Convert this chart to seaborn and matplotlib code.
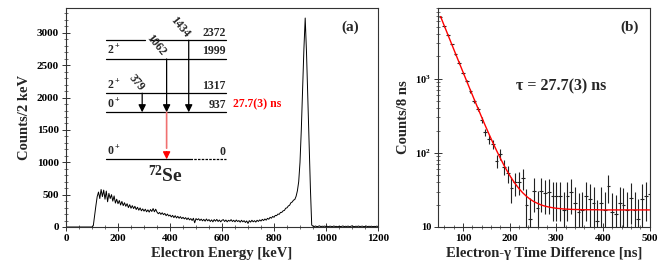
import numpy as np
import matplotlib
matplotlib.use("Agg")
import matplotlib.pyplot as plt
import seaborn as sns
from matplotlib.ticker import MultipleLocator, FixedLocator, FixedFormatter, LogLocator, NullFormatter

# ---------------- data: panel (a), electron energy spectrum (5 keV grid) ----------------
energy_kev = np.arange(0, 1205, 5)
energy_counts = [
    0, 0, 0, 0, 0, 0, 0, 0, 0, 0,
    0, 0, 0, 0, 0, 0, 0, 0, 0, 0,
    0, 20, 180, 330, 470, 540, 440, 580, 470, 570,
    430, 555, 390, 520, 440, 500, 400, 480, 370, 430,
    360, 410, 340, 395, 330, 375, 320, 360, 300, 345,
    290, 330, 285, 320, 270, 305, 260, 295, 250, 280,
    245, 275, 235, 265, 230, 270, 240, 285, 235, 275,
    230, 205, 225, 195, 220, 190, 210, 175, 200, 170,
    185, 155, 180, 145, 175, 140, 165, 135, 160, 130,
    150, 125, 145, 115, 140, 110, 130, 100, 135, 65,
    130, 110, 128, 100, 122, 95, 118, 90, 124, 95,
    115, 85, 110, 80, 115, 90, 118, 85, 108, 80,
    104, 114, 85, 108, 80, 104, 90, 114, 85, 104,
    80, 108, 85, 100, 75, 104, 80, 98, 70, 94,
    55, 98, 76, 104, 80, 98, 76, 104, 86, 110,
    92, 118, 100, 124, 106, 134, 120, 150, 136, 164,
    150, 180, 175, 200, 196, 225, 226, 250, 256, 290,
    296, 325, 336, 375, 386, 415, 425, 475, 560, 700,
    1000, 1500, 2100, 2750, 3230, 2700, 2000, 1300, 600, 30,
    12, 8, 15, 5, 10, 18, 6, 12, 9, 14,
    7, 11, 5, 13, 9, 6, 15, 8, 10, 4,
    12, 7, 9, 16, 6, 11, 8, 14, 5, 10,
    18, 9, 6, 12, 8, 15, 7, 10, 13, 6,
    9, 14, 6, 11, 8, 12, 5, 10, 7, 13,
    8,
]

# level scheme of 72Se
level_energies = [0, 937, 1317, 1999, 2372]
level_spins = ["0$^+$", "0$^+$", "2$^+$", "2$^+$", ""]
gamma_labels = ["379", "1062", "1434"]
lifetime_label = "27.7(3) ns"

# ---------------- data: panel (b), time difference ----------------
time_ns = np.arange(52, 501, 8)
time_counts = [
    6900, 5100, 3900, 2900, 2150, 1650, 1200, 920, 690, 500,
    390, 275, 190, 153, 132, 78, 96, 65, 53, 34,
    40, 41, 46, 20, 13, 31, 18, 31, 29, 30,
    26, 26, 26, 17, 26, 30, 21, 16, 17, 26,
    24, 21, 12, 21, 17, 36, 16, 15, 21, 20,
    17, 25, 17, 13, 24, 26, 28,
]
time_errors = [
    140, 120, 100, 85, 70, 60, 50, 45, 40, 33,
    28, 25, 22, 20, 19, 16, 17, 15, 14, 13,
    14, 14, 14, 13, 12, 15, 13, 15, 14, 15,
    14, 14, 14, 13, 14, 15, 14, 13, 13, 14,
    14, 14, 11, 14, 13, 15, 13, 12, 14, 14,
    13, 14, 13, 11, 14, 14, 15,
]
fit_counts = [
    6902, 5175, 3882, 2912, 2186, 1642, 1235, 929, 700, 529,
    401, 304, 232, 178, 138, 107.6, 84.9, 67.9, 55.1, 45.5,
    38.4, 33.0, 29.0, 26.0, 23.7, 22.0, 20.8, 19.8, 19.1, 18.6,
    18.2, 17.9, 17.7, 17.5, 17.4, 17.3, 17.2, 17.2, 17.1, 17.1,
    17.1, 17.1, 17.1, 17.0, 17.0, 17.0, 17.0, 17.0, 17.0, 17.0,
    17.0, 17.0, 17.0, 17.0, 17.0, 17.0, 17.0,
]

# ---------------- style ----------------
sns.set_theme(style="ticks")
plt.rcParams.update({
    "font.family": ["Liberation Serif", "DejaVu Serif"],
    "font.weight": "bold",
    "mathtext.fontset": "custom",
    "mathtext.rm": "Liberation Serif:bold",
    "mathtext.it": "Liberation Serif:italic:bold",
    "mathtext.bf": "Liberation Serif:bold",
    "axes.linewidth": 0.8,
    "axes.edgecolor": "#333333",
})

fig = plt.figure(figsize=(6.64, 2.67), dpi=100)
ax1 = fig.add_axes([66 / 664, 40 / 267, 312 / 664, 219 / 267])
ax2 = fig.add_axes([438 / 664, 40 / 267, 212 / 664, 219 / 267])

# ---------------- panel (a) ----------------
sns.lineplot(x=energy_kev, y=energy_counts, ax=ax1, color="black", lw=0.7)
ax1.set_xlim(0, 1200)
ax1.set_ylim(0, 3385)
ax1.xaxis.set_major_locator(MultipleLocator(200))
ax1.xaxis.set_minor_locator(MultipleLocator(50))
ax1.yaxis.set_major_locator(MultipleLocator(500))
ax1.yaxis.set_minor_locator(MultipleLocator(100))
ax1.set_xlabel("Electron Energy [keV]", fontsize=10.5, fontweight="bold", labelpad=3)
ax1.set_ylabel("Counts/2 keV", fontsize=10.5, fontweight="bold", labelpad=4)
ax1.text(1092, 3090, "(a)", fontsize=11, fontweight="bold", ha="center", va="center")


def level_y(e):
    # vertical placement of a level inside the spectrum frame
    return 1046 + 0.776 * e


x_lo, x_hi = 154, 615
for e, spin in zip(level_energies, level_spins):
    y = level_y(e)
    if e == 2372:
        ax1.plot([x_lo, 305], [y, y], color="black", lw=0.9)
        ax1.plot([325, x_hi], [y, y], color="black", lw=0.9)
    elif e == 0:
        ax1.plot([x_lo, 477], [y, y], color="black", lw=0.9)
        ax1.plot([477, x_hi], [y, y], color="black", lw=0.9, ls=(0, (2, 1)))
    else:
        ax1.plot([x_lo, x_hi], [y, y], color="black", lw=0.9)
    ax1.text(x_hi, y + 25, str(e), fontsize=8.5, fontweight="bold", ha="right", va="bottom")
    if spin:
        ax1.text(x_lo + 2, y + 25, spin, fontsize=8.5, fontweight="bold", ha="left", va="bottom")

ax1.text(643, level_y(937) + 25, lifetime_label, color="red", fontsize=8.5,
         fontweight="bold", ha="left", va="bottom")

# gamma transitions feeding the 937 keV 0+ level
gamma_x = [293, 387, 472]
gamma_from = [1317, 1999, 2372]
gamma_label_pos = [(272, 2235), (345, 2810), (437, 3090)]
for gx, e_from, lab, (lx, ly) in zip(gamma_x, gamma_from, gamma_labels, gamma_label_pos):
    ax1.annotate("", xy=(gx, level_y(937)), xytext=(gx, level_y(e_from)),
                 arrowprops=dict(arrowstyle="-|>", color="black", lw=0.9,
                                 mutation_scale=11, shrinkA=0, shrinkB=0))
    ax1.text(lx, ly, lab, fontsize=8.5, fontweight="bold", rotation=-50,
             ha="center", va="center")

# E0 transition 0+ -> 0+
ax1.annotate("", xy=(387, level_y(0)), xytext=(387, level_y(937)),
             arrowprops=dict(arrowstyle="-", color="#f07070", lw=1.2, shrinkA=0, shrinkB=8))
ax1.annotate("", xy=(387, level_y(0)), xytext=(387, level_y(0) + 120),
             arrowprops=dict(arrowstyle="-|>", color="red", lw=0.9,
                             mutation_scale=11, shrinkA=0, shrinkB=0))
ax1.text(381, 800, "$^{72}$Se", fontsize=14, fontweight="bold", ha="center", va="center")

# ---------------- panel (b) ----------------
ax2.errorbar(time_ns, time_counts, yerr=time_errors, xerr=4, fmt="none",
             ecolor="#222222", elinewidth=0.8, capsize=0)
sns.lineplot(x=time_ns, y=fit_counts, ax=ax2, color="red", lw=1.0)
ax2.set_yscale("log")
ax2.set_xlim(46.5, 501)
ax2.set_ylim(10, 9000)
ax2.xaxis.set_major_locator(MultipleLocator(100))
ax2.xaxis.set_minor_locator(MultipleLocator(20))
ax2.yaxis.set_major_locator(FixedLocator([10, 100, 1000]))
ax2.yaxis.set_major_formatter(FixedFormatter(["10", "10$^2$", "10$^3$"]))
ax2.yaxis.set_minor_locator(LogLocator(base=10, subs=np.arange(2, 10)))
ax2.yaxis.set_minor_formatter(NullFormatter())
ax2.set_xlabel("Electron-γ Time Difference [ns]", fontsize=10.5, fontweight="bold", labelpad=3)
ax2.set_ylabel("Counts/8 ns", fontsize=10.5, fontweight="bold", labelpad=4)
ax2.text(0.58, 0.64, "τ = 27.7(3) ns", transform=ax2.transAxes, fontsize=11.5,
         fontweight="bold", ha="center", va="center")
ax2.text(0.905, 0.91, "(b)", transform=ax2.transAxes, fontsize=11,
         fontweight="bold", ha="center", va="center")

for ax in (ax1, ax2):
    for side in ("top", "right", "left", "bottom"):
        ax.spines[side].set_visible(True)
        ax.spines[side].set_color("#333333")
    ax.tick_params(which="major", direction="inout", length=6, width=0.7,
                   labelsize=8, pad=2, colors="#333333", labelcolor="black")
    ax.tick_params(which="minor", direction="inout", length=3, width=0.6, colors="#555555")
    for lab in ax.get_xticklabels() + ax.get_yticklabels():
        lab.set_fontweight("bold")

ax2.tick_params(axis="y", which="major", labelsize=7.5)

fig.savefig("out.png", dpi=100)
